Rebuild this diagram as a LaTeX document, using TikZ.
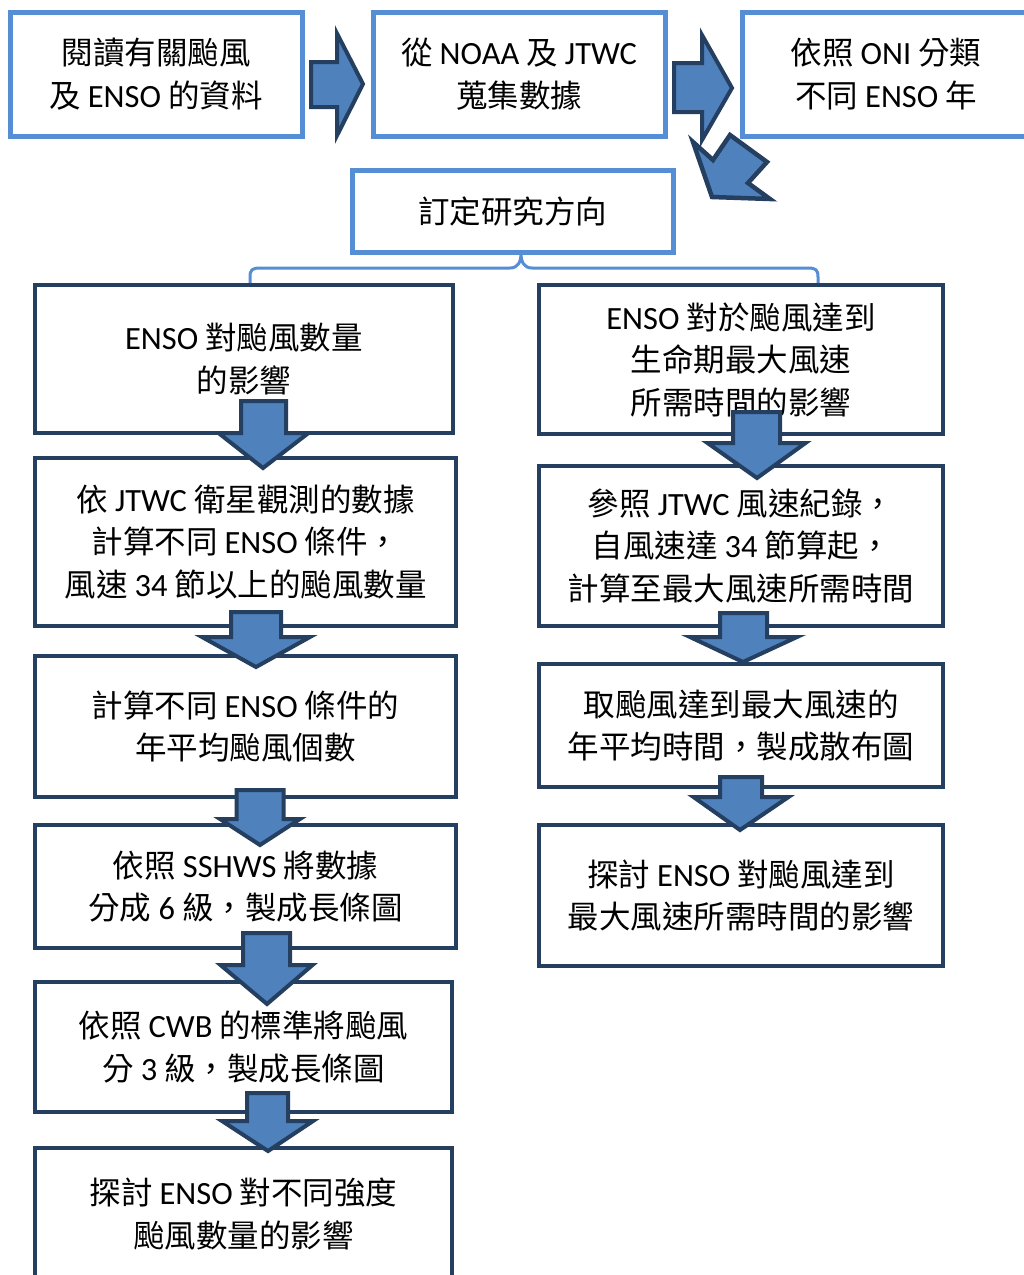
\documentclass[tikz,border=0pt]{standalone}
\usepackage{fontspec}
\setmainfont{Noto Sans CJK TC}
\newfontfamily\lat[Scale=1.03]{Carlito}
\definecolor{lblue}{HTML}{558ED5}
\definecolor{navy}{HTML}{243F60}
\definecolor{afill}{HTML}{4F81BD}
\tikzset{
  lbox/.style={draw=lblue, line width=5pt, fill=white, align=center, inner sep=0pt},
  dbox/.style={draw=navy, line width=4.5pt, fill=white, align=center, inner sep=0pt},
  blk/.style={draw=navy, fill=afill, line width=4pt, line join=miter},
  txt/.style={font=\fontsize{31.5}{42.5}\selectfont}
}
\newcommand\dnarrow[7]{% cx, top, neck, tip, bodyhalf, headhalf, tipx
  \draw[blk] ({#1-#5},#2) -- ({#1+#5},#2) -- ({#1+#5},#3) -- ({#1+#6},#3) -- (#7,#4) -- ({#1-#6},#3) -- ({#1-#5},#3) -- cycle;}
\newcommand\rtarrow[7]{% cy, left, neck, tipx, bodyhalf, headhalf, tipy
  \draw[blk] (#2,{#1-#5}) -- (#3,{#1-#5}) -- (#3,{#1-#6}) -- (#4,#7) -- (#3,{#1+#6}) -- (#3,{#1+#5}) -- (#2,{#1+#5}) -- cycle;}
\begin{document}
\begin{tikzpicture}[x=1pt,y=-1pt]
\useasboundingbox (0,0) rectangle (1024,1275);
\clip (0,0) rectangle (1024,1275);
\fill[white] (0,0) rectangle (1024,1275);
% top row
\node[lbox, txt, minimum width=292pt, minimum height=124pt] (A) at (156,74) {閱讀有關颱風\\及 {\lat ENSO} 的資料};
\node[lbox, txt, minimum width=292pt, minimum height=124pt] (B) at (519,74) {從 {\lat NOAA} 及 {\lat JTWC}\\蒐集數據};
\node[lbox, txt, minimum width=288pt, minimum height=124pt] (C) at (886,74) {依照 {\lat ONI} 分類\\不同 {\lat ENSO} 年};
\node[lbox, txt, minimum width=321pt, minimum height=82pt] (D) at (512.5,211) {訂定研究方向};
% brace
\draw[lblue, line width=3pt, line cap=round]
  (250,283) -- (250,277) .. controls (250,270) and (252,268) .. (260,268) -- (510,268)
  .. controls (518,268) and (521,262) .. (521,253)
  .. controls (521,262) and (524,268) .. (532,268) -- (808,268)
  .. controls (816,268) and (818,270) .. (818,277) -- (818,283);
% left column
\node[dbox, txt, minimum width=418pt, minimum height=148pt] (L1) at (244,359) {{\lat ENSO} 對颱風數量\\的影響};
\node[dbox, txt, minimum width=421pt, minimum height=168pt] (L2) at (245.5,542) {依 {\lat JTWC} 衛星觀測的數據\\計算不同 {\lat ENSO} 條件，\\風速 {\lat 34} 節以上的颱風數量};
\node[dbox, txt, minimum width=421pt, minimum height=141pt] (L3) at (245.5,726.5) {計算不同 {\lat ENSO} 條件的\\年平均颱風個數};
\node[dbox, txt, minimum width=421pt, minimum height=123pt] (L4) at (245.5,886.5) {依照 {\lat SSHWS} 將數據\\分成 {\lat 6} 級，製成長條圖};
\node[dbox, txt, minimum width=417pt, minimum height=130pt] (L5) at (243.5,1047) {依照 {\lat CWB} 的標準將颱風\\分 {\lat 3} 級，製成長條圖};
\node[dbox, txt, minimum width=417pt, minimum height=132pt] (L6) at (243.5,1214) {探討 {\lat ENSO} 對不同強度\\颱風數量的影響};
% right column
\node[dbox, txt, minimum width=404pt, minimum height=149pt] (R1) at (741,359.5) {{\lat ENSO} 對於颱風達到\\生命期最大風速\\所需時間的影響};
\node[dbox, txt, minimum width=404pt, minimum height=160pt] (R2) at (741,546) {參照 {\lat JTWC} 風速紀錄，\\自風速達 {\lat 34} 節算起，\\計算至最大風速所需時間};
\node[dbox, txt, minimum width=404pt, minimum height=123pt] (R3) at (741,725.5) {取颱風達到最大風速的\\年平均時間，製成散布圖};
\node[dbox, txt, minimum width=404pt, minimum height=141pt] (R4) at (741,895.5) {探討 {\lat ENSO} 對颱風達到\\最大風速所需時間的影響};
% block arrows
\rtarrow{84.5}{311}{337}{363}{22.5}{51}{84}
\rtarrow{87.5}{674}{702}{732}{24.5}{52.5}{88}
\draw[blk, line width=4.5pt] (712,197) -- (693,142) -- (713,160) -- (730,135) -- (767,162) -- (748,183) -- (770,199) -- cycle;
\dnarrow{263.5}{401}{433}{468}{22.5}{45}{263}
\dnarrow{256}{612}{637}{667}{25}{54}{256}
\dnarrow{260}{790}{819}{845}{23.5}{40}{260}
\dnarrow{266.5}{933}{965}{1004}{23.5}{46}{267}
\dnarrow{267.5}{1093}{1121}{1151}{20.5}{45.5}{268}
\dnarrow{756.5}{412}{443}{478}{23.5}{49}{757}
\dnarrow{743.5}{613}{637}{662}{23.5}{53.5}{743}
\dnarrow{741}{777}{797}{830}{21}{47.5}{740}
\end{tikzpicture}
\end{document}
